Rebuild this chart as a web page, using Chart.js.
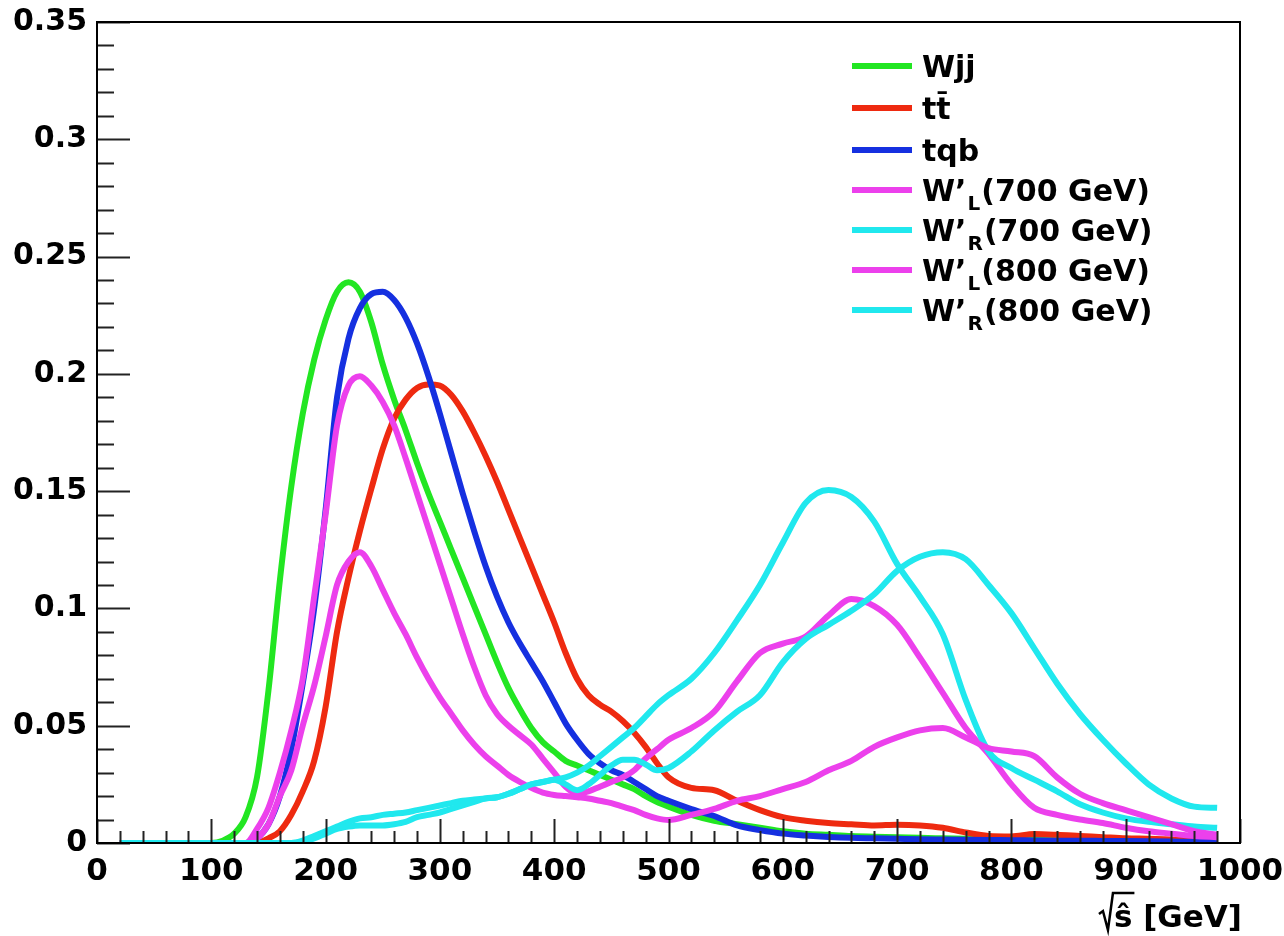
<!DOCTYPE html>
<html>
<head>
<meta charset="utf-8">
<script src="https://cdn.jsdelivr.net/npm/chart.js@4.4.1/dist/chart.umd.min.js"></script>
<style>
  html, body { margin: 0; padding: 0; background: #fff; }
  #wrap { width: 1284px; height: 936px; }
</style>
</head>
<body>
<div id="wrap"><canvas id="chartMain" width="1284" height="936"></canvas></div>
<script>
// ===== DATA =====
// sqrt(s-hat) in GeV
const xs = [20, 40, 60, 80, 100,
  110, 120, 130, 140, 150, 160, 170, 180, 190, 200,
  210, 220, 230, 240, 250, 260, 270, 280, 290, 300,
  310, 320, 330, 340, 350, 360, 370, 380, 390, 400,
  410, 420, 430, 440, 450, 460, 470, 480, 490, 500,
  520, 540, 560, 580, 600, 620, 640, 660, 680, 700,
  720, 740, 760, 780, 800, 820, 840, 860, 880, 900,
  920, 940, 960, 980];

const wjj = [0, 0, 0, 0, 0,
  0.001, 0.004, 0.011, 0.028, 0.065, 0.112, 0.152, 0.183, 0.206, 0.223,
  0.235, 0.239, 0.235, 0.222, 0.204, 0.189, 0.176, 0.162, 0.149, 0.137,
  0.125, 0.113, 0.101, 0.089, 0.077, 0.066, 0.057, 0.049, 0.043, 0.039,
  0.035, 0.033, 0.031, 0.029, 0.027, 0.025, 0.023, 0.02, 0.0175, 0.0155,
  0.012, 0.0095, 0.008, 0.0065, 0.005, 0.004, 0.0035, 0.003, 0.0027, 0.0025,
  0.0022, 0.002, 0.0018, 0.0016, 0.0014, 0.0013, 0.0012, 0.0011, 0.001, 0.0009,
  0.0008, 0.0007, 0.0006, 0.0005];

const ttbar = [0, 0, 0, 0, 0,
  0, 0, 0, 0, 0.002, 0.005, 0.012, 0.022, 0.035, 0.058,
  0.09, 0.113, 0.133, 0.151, 0.168, 0.181, 0.189, 0.194, 0.1955, 0.195,
  0.191, 0.184, 0.175, 0.165, 0.154, 0.142, 0.13, 0.118, 0.106, 0.094,
  0.081, 0.07, 0.063, 0.059, 0.056, 0.052, 0.047, 0.041, 0.034, 0.028,
  0.0235, 0.0225, 0.018, 0.014, 0.011, 0.0095, 0.0085, 0.008, 0.0075, 0.0078,
  0.0075, 0.0065, 0.0045, 0.003, 0.0028, 0.0038, 0.0035, 0.003, 0.0025, 0.002,
  0.0018, 0.0015, 0.0012, 0.001];

const tqb = [0, 0, 0, 0, 0,
  0, 0, 0, 0.002, 0.008, 0.02, 0.04, 0.068, 0.1, 0.142,
  0.19, 0.215, 0.228, 0.234, 0.235, 0.2315, 0.224, 0.213, 0.199, 0.183,
  0.166, 0.149, 0.133, 0.118, 0.105, 0.094, 0.085, 0.077, 0.069, 0.06,
  0.051, 0.044, 0.038, 0.034, 0.031, 0.029, 0.026, 0.023, 0.02, 0.018,
  0.0145, 0.0115, 0.0075, 0.0055, 0.004, 0.0032, 0.0026, 0.0022, 0.002, 0.0018,
  0.0016, 0.0015, 0.0014, 0.0013, 0.0012, 0.0011, 0.001, 0.001, 0.0009, 0.0008,
  0.0007, 0.0006, 0.0005, 0.0005];

const wl700 = [0, 0, 0, 0, 0,
  0, 0, 0, 0.006, 0.015, 0.03, 0.048, 0.07, 0.105, 0.14,
  0.178, 0.195, 0.199, 0.195, 0.188, 0.178, 0.164, 0.149, 0.134, 0.119,
  0.104, 0.089, 0.075, 0.063, 0.055, 0.05, 0.046, 0.042, 0.036, 0.03,
  0.024, 0.021, 0.022, 0.024, 0.026, 0.028, 0.031, 0.036, 0.04, 0.044,
  0.049, 0.056, 0.069, 0.081, 0.085, 0.088, 0.097, 0.104, 0.101, 0.093,
  0.079, 0.064, 0.049, 0.038, 0.025, 0.015, 0.012, 0.01, 0.0085, 0.0065,
  0.005, 0.004, 0.003, 0.0025];

const wr700 = [0, 0, 0, 0, 0,
  0, 0, 0, 0, 0, 0, 0, 0.001, 0.003, 0.005,
  0.007, 0.009, 0.0105, 0.011, 0.012, 0.0125, 0.013, 0.014, 0.015, 0.016,
  0.017, 0.018, 0.0185, 0.019, 0.0195, 0.021, 0.023, 0.025, 0.026, 0.027,
  0.028, 0.03, 0.033, 0.037, 0.041, 0.045, 0.049, 0.054, 0.059, 0.063,
  0.07, 0.081, 0.095, 0.11, 0.128, 0.145, 0.1505, 0.1475, 0.137, 0.119,
  0.105, 0.089, 0.061, 0.039, 0.032, 0.027, 0.022, 0.0165, 0.013, 0.0105,
  0.009, 0.008, 0.007, 0.0065];

const wl800 = [0, 0, 0, 0, 0,
  0, 0, 0, 0.002, 0.008, 0.02, 0.031, 0.05, 0.067, 0.088,
  0.11, 0.12, 0.124, 0.118, 0.108, 0.098, 0.089, 0.079, 0.07, 0.062,
  0.055, 0.048, 0.042, 0.037, 0.033, 0.029, 0.026, 0.0235, 0.0215, 0.0205,
  0.02, 0.0195, 0.019, 0.018, 0.017, 0.0155, 0.014, 0.012, 0.0105, 0.0098,
  0.012, 0.0145, 0.018, 0.02, 0.023, 0.026, 0.031, 0.035, 0.041, 0.045,
  0.048, 0.049, 0.045, 0.0405, 0.039, 0.037, 0.028, 0.021, 0.017, 0.014,
  0.011, 0.008, 0.005, 0.0035];

const wr800 = [0, 0, 0, 0, 0,
  0, 0, 0, 0, 0, 0, 0, 0.0005, 0.002, 0.004,
  0.006, 0.007, 0.0075, 0.0075, 0.0075, 0.008, 0.009, 0.011, 0.012, 0.013,
  0.0145, 0.016, 0.0175, 0.019, 0.0195, 0.021, 0.023, 0.025, 0.026, 0.027,
  0.025, 0.0225, 0.025, 0.029, 0.033, 0.0355, 0.0355, 0.0335, 0.031, 0.032,
  0.039, 0.048, 0.056, 0.063, 0.077, 0.087, 0.093, 0.099, 0.106, 0.116,
  0.122, 0.124, 0.121, 0.11, 0.098, 0.083, 0.068, 0.055, 0.044, 0.034,
  0.025, 0.019, 0.0155, 0.015];

// legend text: "_X" marks a subscript letter
const seriesLabels = ['Wjj', 'tt\u0304', 'tqb', 'W\u2019_L(700 GeV)', 'W\u2019_R(700 GeV)', 'W\u2019_L(800 GeV)', 'W\u2019_R(800 GeV)'];
const seriesData   = [wjj, ttbar, tqb, wl700, wr700, wl800, wr800];
const seriesColors = ['#22e622', '#ee2a10', '#1530e0', '#ec40ec', '#20e8ee', '#ec40ec', '#20e8ee'];

const xTickLabels = ['0', '100', '200', '300', '400', '500', '600', '700', '800', '900', '1000'];
const yTickLabels = ['0', '0.05', '0.1', '0.15', '0.2', '0.25', '0.3', '0.35'];

const FONT = 'DejaVu Sans';

// ===== PLUGIN: frame, inward ticks, legend, axis title =====
const rootStyle = {
  id: 'rootStyle',
  afterDatasetsDraw(chart) {
    const { ctx, chartArea: a, scales: { x, y } } = chart;
    ctx.save();

    // --- ticks pointing inside ---
    ctx.strokeStyle = '#222';
    ctx.lineWidth = 2;
    ctx.beginPath();
    for (let v = 0; v <= 1000; v += 20) {
      const px = Math.round(x.getPixelForValue(v)) + 0.5;
      const len = v % 100 === 0 ? 24 : 12;
      ctx.moveTo(px, a.bottom);
      ctx.lineTo(px, a.bottom - len);
    }
    for (let k = 0; k <= 35; k++) {
      const py = Math.round(y.getPixelForValue(k / 100)) + 0.5;
      const len = k % 5 === 0 ? 33 : 17;
      ctx.moveTo(a.left, py);
      ctx.lineTo(a.left + len, py);
    }
    ctx.stroke();

    // --- frame ---
    ctx.strokeStyle = '#000';
    ctx.lineWidth = 2;
    ctx.strokeRect(a.left, a.top, a.right - a.left, a.bottom - a.top);

    // --- legend ---
    const rowY = [66, 108, 150, 190, 230, 270, 310];
    const size = 30;
    ctx.fillStyle = '#000';
    ctx.textBaseline = 'alphabetic';
    seriesLabels.forEach((lab, i) => {
      const yy = rowY[i];
      ctx.strokeStyle = seriesColors[i];
      ctx.lineWidth = 6;
      ctx.beginPath();
      ctx.moveTo(852, yy);
      ctx.lineTo(912, yy);
      ctx.stroke();

      let tx = 922;
      const base = yy + 11;
      const parts = lab.split('_');
      parts.forEach((p, j) => {
        if (j === 0) {
          ctx.font = `bold ${size}px "${FONT}"`;
          ctx.fillText(p, tx, base);
          tx += ctx.measureText(p).width;
        } else {
          ctx.font = `bold ${Math.round(size * 0.66)}px "${FONT}"`;
          ctx.fillText(p[0], tx + 1, base + 9);
          tx += ctx.measureText(p[0]).width + 2;
          ctx.font = `bold ${size}px "${FONT}"`;
          ctx.fillText(p.slice(1), tx, base);
          tx += ctx.measureText(p.slice(1)).width;
        }
      });
    });

    // --- x axis title: sqrt(s-hat) [GeV] ---
    ctx.textAlign = 'right';
    const right = 1242, baseY = 927;
    ctx.font = `bold 31px "${FONT}"`;
    const rest = ' [GeV]';
    const restW = ctx.measureText(rest).width;
    const sW = ctx.measureText('\u015D').width;
    ctx.fillText(rest, right, baseY);
    ctx.fillText('\u015D', right - restW, baseY);
    const sX = right - restW - sW;
    ctx.lineWidth = 2.5;
    ctx.strokeStyle = '#000';
    ctx.lineJoin = 'miter';
    ctx.beginPath();
    ctx.moveTo(sX - 15, baseY - 13);
    ctx.lineTo(sX - 11, baseY - 16);
    ctx.lineTo(sX - 6, baseY + 3);
    ctx.lineTo(sX - 1, baseY - 34);
    ctx.lineTo(right - restW + 2, baseY - 34);
    ctx.stroke();

    ctx.restore();
  }
};

// ===== CHART =====
const ctxMain = document.getElementById('chartMain').getContext('2d');

const mainChart = new Chart(ctxMain, {
  type: 'line',
  data: {
    datasets: seriesData.map((vals, i) => ({
      label: seriesLabels[i],
      data: xs.map((xv, j) => ({ x: xv, y: vals[j] })),
      borderColor: seriesColors[i],
      backgroundColor: seriesColors[i],
      borderWidth: 6,
      pointRadius: 0,
      fill: false,
      cubicInterpolationMode: 'monotone',
      order: seriesData.length - i,
    })),
  },
  options: {
    responsive: false,
    animation: false,
    devicePixelRatio: 1,
    layout: { padding: { left: 0, top: 22, right: 44, bottom: 0 } },
    plugins: {
      legend: { display: false },
      tooltip: { enabled: false },
    },
    scales: {
      x: {
        type: 'linear',
        min: 0,
        max: 1000,
        afterFit: s => { s.height = 93; s.paddingLeft = 0; s.paddingRight = 0; },
        grid: { display: false, drawTicks: false },
        border: { display: false },
        ticks: {
          stepSize: 100,
          padding: 10,
          autoSkip: false,
          maxRotation: 0,
          color: '#000',
          font: { family: FONT, size: 31, weight: 'bold' },
          callback: v => xTickLabels[Math.round(v / 100)],
        },
      },
      y: {
        type: 'linear',
        min: 0,
        max: 0.35,
        afterFit: s => { s.width = 97; s.paddingTop = 0; s.paddingBottom = 0; },
        grid: { display: false, drawTicks: false },
        border: { display: false },
        ticks: {
          stepSize: 0.05,
          padding: 10,
          autoSkip: false,
          color: '#000',
          font: { family: FONT, size: 30, weight: 'bold' },
          callback: v => yTickLabels[Math.round(v / 0.05)],
        },
      },
    },
  },
  plugins: [rootStyle],
});
</script>
</body>
</html>
